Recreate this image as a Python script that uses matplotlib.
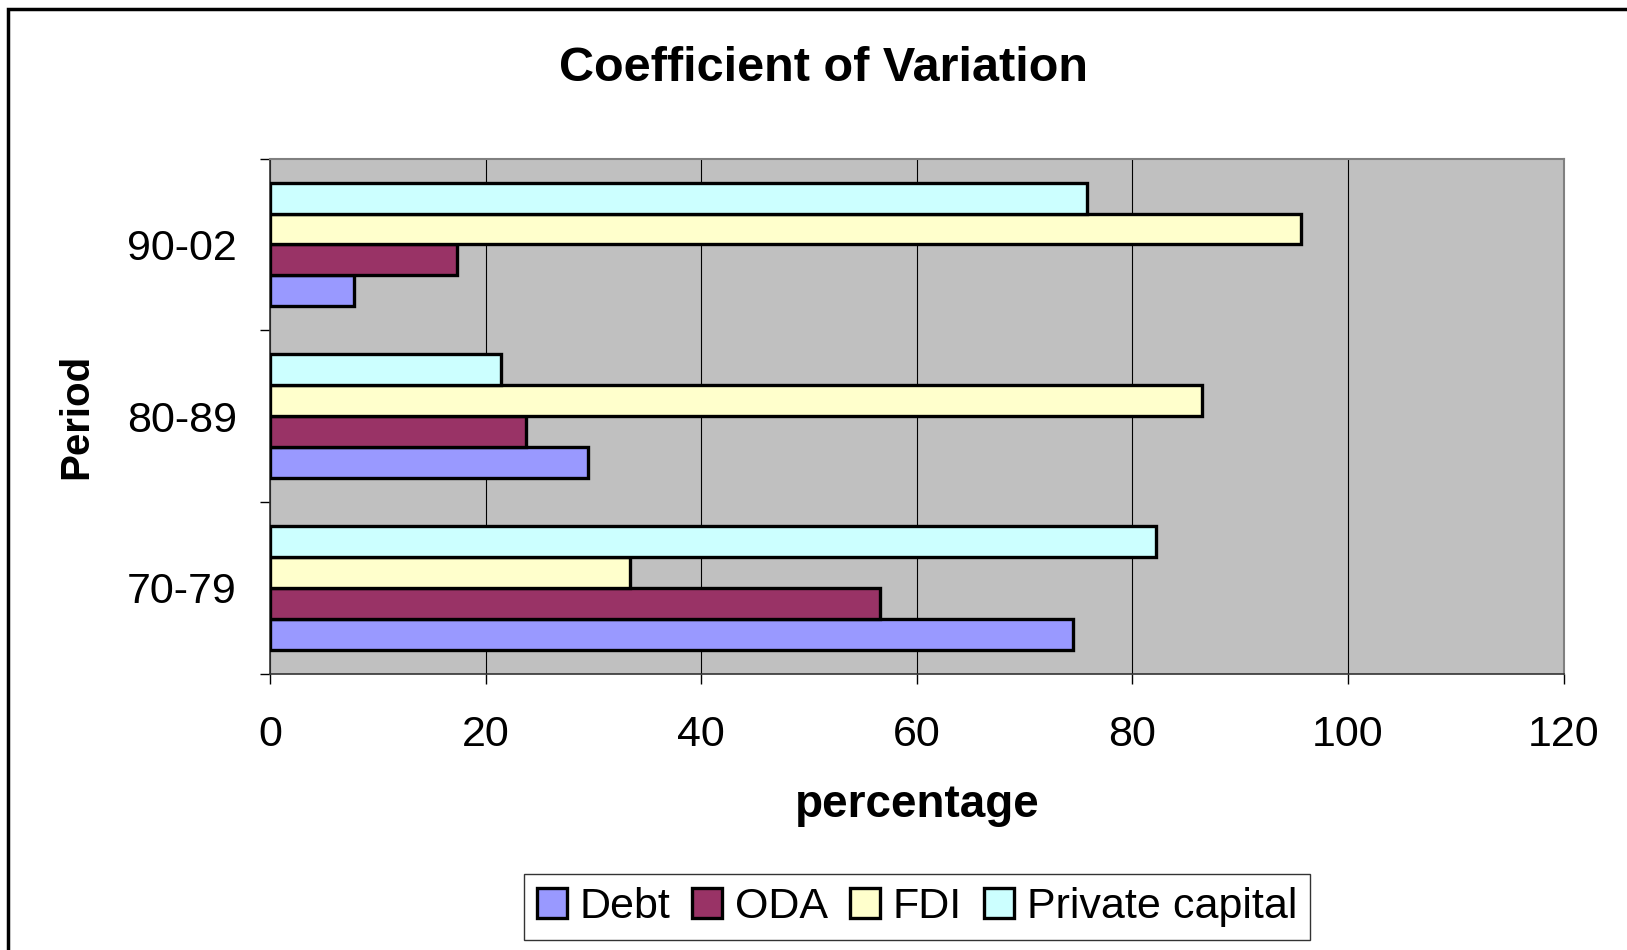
import matplotlib.pyplot as plt
import numpy as np
from matplotlib.patches import Rectangle

periods = ['70-79', '80-89', '90-02']
series = ['Debt', 'ODA', 'FDI', 'Private capital']
debt = [74.5, 29.5, 7.8]
oda = [56.6, 23.7, 17.3]
fdi = [33.4, 86.5, 95.6]
private_capital = [82.2, 21.4, 75.8]
colors = ['#9999FF', '#993366', '#FFFFCC', '#CCFFFF']

plt.rcParams['font.family'] = ['Liberation Sans', 'DejaVu Sans']

fig = plt.figure(figsize=(16.27, 9.5), dpi=100)
ax = fig.add_axes([0.166, 0.291, 0.795, 0.542])
ax.set_facecolor('#C0C0C0')

y = np.arange(len(periods))
h = 0.18
values = [debt, oda, fdi, private_capital]
for i, (name, vals) in enumerate(zip(series, values)):
    ax.barh(y + (i - 1.5) * h, vals, height=h, color=colors[i],
            edgecolor='black', linewidth=2.4, label=name, zorder=3)

ax.set_xlim(0, 120)
ax.set_ylim(-0.5, 2.5)
ax.set_xticks(range(0, 121, 20))
ax.set_yticks([-0.5, 0.5, 1.5, 2.5], minor=False)
ax.set_yticklabels([])
ax.set_yticks(y, minor=True)
ax.set_yticklabels(periods, minor=True)
ax.tick_params(axis='y', which='minor', length=0, labelsize=31, pad=24)
ax.tick_params(axis='y', which='major', length=7, width=1, direction='out')
ax.tick_params(axis='x', labelsize=31, length=7, width=1, pad=23)
ax.grid(axis='x', color='black', linewidth=0.8, zorder=1)

for side in ['top', 'right']:
    ax.spines[side].set_color('#808080')
    ax.spines[side].set_linewidth(1.5)
for side in ['left', 'bottom']:
    ax.spines[side].set_color('#333333')
    ax.spines[side].set_linewidth(1.2)

ax.set_xlabel('percentage', fontsize=33, fontweight='bold', labelpad=20)
fig.text(0.047, 0.562, 'Period', rotation=90, fontsize=29, fontweight='bold',
         ha='center', va='center')
fig.text(0.506, 0.928, 'Coefficient of Variation', fontsize=35,
         fontweight='bold', ha='center', va='center')

leg = fig.legend(loc='center', bbox_to_anchor=(0.5635, 0.045), ncol=4,
                 fontsize=31, frameon=True, fancybox=False, handlelength=0.7,
                 handleheight=0.7, handletextpad=0.3, columnspacing=0.5,
                 borderpad=0.3)
leg.get_frame().set_edgecolor('black')
leg.get_frame().set_linewidth(1)

fig.patches.append(Rectangle((8 / 1627, -0.1), 1.2, 1 - 9 / 950 + 0.1,
                             transform=fig.transFigure, fill=False,
                             edgecolor='black', linewidth=2.5))

fig.savefig('out.png', dpi=100)
